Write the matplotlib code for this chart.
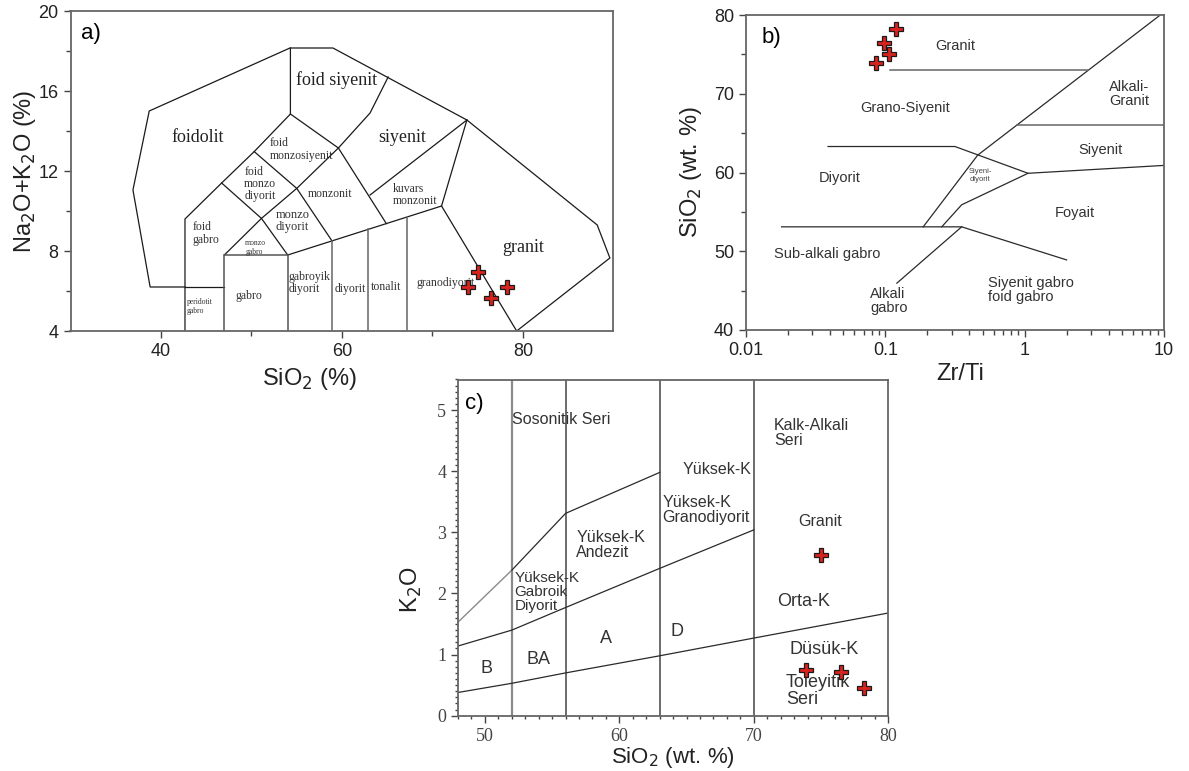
import numpy as np
import matplotlib
matplotlib.use('Agg')
import matplotlib.pyplot as plt
from matplotlib.ticker import FixedLocator, MultipleLocator, LogLocator, NullFormatter

plt.rcParams['font.family'] = ['Liberation Sans', 'DejaVu Sans']
SERIF = ['Liberation Serif', 'DejaVu Serif']

### sample data (same four samples in every panel)
sio2 = [75.0, 73.9, 76.5, 78.2]
na2o_k2o = [6.97, 6.18, 5.63, 6.18]
k2o = [2.63, 0.74, 0.72, 0.45]
zr_ti = [0.107, 0.086, 0.098, 0.119]

### a) TAS field boundaries (SiO2, Na2O+K2O)
tas_outer = [(42.65, 6.2), (38.8, 6.2), (36.9, 11.05), (38.7, 15.0), (54.25, 18.15),
             (59.0, 18.15), (73.8, 14.55), (88.2, 9.3), (89.6, 7.65), (79.3, 4.0)]
tas_foidolit_edge = [(42.65, 4.0), (42.65, 9.6), (46.7, 11.4), (50.3, 12.97), (54.3, 14.85), (54.3, 18.15)]
tas_foid_syenite_edge = [(65.1, 16.7), (63.1, 14.9), (59.6, 13.15)]
tas_syenite_monzonite = [(54.3, 14.85), (59.6, 13.15), (64.9, 9.37)]
tas_syenite_qmonz = [(63.1, 10.8), (73.8, 14.55)]
tas_qmonz_granite = [(73.8, 14.55), (71.0, 10.25), (79.3, 4.0)]
tas_foid_monzo = [(47.0, 7.8), (51.1, 9.63), (55.0, 11.13), (59.6, 13.15)]
tas_monzodiorite = [(50.3, 12.97), (55.0, 11.13), (58.9, 8.5)]
tas_monzogabbro = [(46.7, 11.4), (51.1, 9.63), (54.0, 7.8)]
tas_lower = [(54.0, 7.8), (71.0, 10.25)]
tas_peridot_top = [(42.65, 6.2), (47.0, 6.2)]
tas_gabbro_box = [(47.0, 4.0), (47.0, 7.8), (54.0, 7.8), (54.0, 4.0)]
tas_verticals = [58.9, 62.9, 67.15]

tas_big_labels = [('foidolit', 44.0, 13.7), ('foid siyenit', 59.4, 16.55),
                  ('siyenit', 66.6, 13.7), ('granit', 80.0, 8.2)]
tas_left_labels = [('foid\nmonzosiyenit', 52.0, 13.07, 8.5), ('foid\nmonzo\ndiyorit', 49.2, 11.35, 8.5),
                   ('monzo\ndiyorit', 52.7, 9.5, 9), ('kuvars\nmonzonit', 65.6, 10.8, 8.5),
                   ('foid\ngabro', 43.5, 8.88, 8.5), ('monzo\ngabro', 49.3, 8.18, 5.5),
                   ('peridotit\ngabro', 42.8, 5.23, 5.5), ('gabroyik\ndiyorit', 54.05, 6.4, 8.5)]
tas_center_labels = [('monzonit', 58.7, 10.85), ('gabro', 49.7, 5.75), ('diyorit', 60.9, 6.1),
                     ('tonalit', 64.9, 6.18), ('granodiyorit', 71.4, 6.38)]

### b) Zr/Ti - SiO2 boundaries
b_granite = [(0.108, 73.0), (2.85, 73.0)]
b_diagonal = [(9.4, 80.0), (0.46, 62.2), (0.187, 53.1)]
b_alkali_granite = [(0.88, 66.0), (10.0, 66.0)]
b_diorite_top = [(0.0388, 63.3), (0.316, 63.3), (1.057, 59.9), (10.0, 60.9)]
b_syenodiorite = [(1.057, 59.9), (0.353, 55.9), (0.254, 53.1)]
b_gabbro_top = [(0.018, 53.1), (0.353, 53.1), (2.0, 48.9)]
b_alkali_gabbro = [(0.353, 53.1), (0.121, 45.95)]

b_labels = [('Granit', 0.316, 76.1, 'center'), ('Grano-Siyenit', 0.138, 68.2, 'center'),
            ('Alkali-\nGranit', 5.6, 70.0, 'center'), ('Siyenit', 3.48, 62.9, 'center'),
            ('Diyorit', 0.0473, 59.3, 'center'), ('Foyait', 2.3, 54.9, 'center'),
            ('Sub-alkali gabro', 0.038, 49.7, 'center'), ('Alkali\ngabro', 0.0777, 43.7, 'left'),
            ('Siyenit gabro\nfoid gabro', 0.546, 45.1, 'left')]

### c) SiO2 - K2O series boundaries
c_verticals = [52, 56, 63, 70]
c_sho_x = [48, 52, 56, 63]
c_sho_y = [1.53, 2.38, 3.31, 3.98]
c_hk_x = [48, 52, 56, 63, 70]
c_hk_y = [1.14, 1.40, 1.77, 2.41, 3.04]
c_mk_x = [48, 52, 56, 63, 70, 80]
c_mk_y = [0.38, 0.53, 0.70, 0.98, 1.27, 1.68]

c_labels = [('Sosonitik Seri', 52.0, 4.84, 'left', 11.5), ('Kalk-Alkali\nSeri', 71.5, 4.63, 'left', 11.5),
            ('Yüksek-K', 67.3, 4.03, 'center', 11.5), ('Yüksek-K\nGranodiyorit', 63.2, 3.36, 'left', 11.5),
            ('Granit', 74.9, 3.18, 'center', 11.5), ('Yüksek-K\nAndezit', 56.8, 2.79, 'left', 11.5),
            ('Yüksek-K\nGabroik\nDiyorit', 52.2, 2.02, 'left', 11),
            ('Orta-K', 73.7, 1.87, 'center', 13), ('Düsük-K', 75.2, 1.09, 'center', 13),
            ('Toleyitik\nSeri', 72.4, 0.41, 'left', 13), ('B', 50.1, 0.78, 'center', 13),
            ('BA', 53.95, 0.92, 'center', 13), ('A', 59.0, 1.27, 'center', 13),
            ('D', 64.25, 1.37, 'center', 13)]

W, H = 1189, 771


def px_axes(fig, x0, y0, x1, y1):
    return fig.add_axes([x0 / W, 1 - y1 / H, (x1 - x0) / W, (y1 - y0) / H])


def draw_line(ax, pts, color='#1a1a1a', lw=0.9):
    xs, ys = zip(*pts)
    ax.plot(xs, ys, color=color, lw=lw, solid_joinstyle='miter')


def style_axes(ax, labelsize=13, labelcolor='#222222'):
    for s in ax.spines.values():
        s.set_color('#666666')
        s.set_linewidth(1.3)
    ax.tick_params(which='major', direction='out', length=5, width=1, colors='#444444',
                   labelsize=labelsize, labelcolor=labelcolor)
    ax.tick_params(which='minor', direction='out', length=3.5, width=1, colors='#444444')


def plot_samples(ax, x, y):
    ax.plot(x, y, 'P', ls='none', ms=10, mfc='#d8231e', mec='#1a1a1a', mew=0.9, zorder=5)


fig = plt.figure(figsize=(W / 100, H / 100), dpi=100)

############################ a) TAS
ax = px_axes(fig, 70.5, 11, 613.5, 331)
ax.set_xlim(30, 90)
ax.set_ylim(4, 20)
for pts in [tas_outer, tas_foidolit_edge, tas_foid_syenite_edge, tas_syenite_monzonite,
            tas_syenite_qmonz, tas_qmonz_granite, tas_foid_monzo, tas_monzodiorite,
            tas_monzogabbro, tas_lower, tas_peridot_top]:
    draw_line(ax, pts)
draw_line(ax, tas_gabbro_box, color='#555555', lw=1.1)
lx, ly = zip(*tas_lower)
for v in tas_verticals:
    draw_line(ax, [(v, 4.0), (v, np.interp(v, lx, ly))], color='#666666', lw=1.1)

for txt, x, y in tas_big_labels:
    ax.text(x, y, txt, family=SERIF, fontsize=13, ha='center', va='center', color='#222222')
for txt, x, y, fs in tas_left_labels:
    ax.text(x, y, txt, family=SERIF, fontsize=fs, ha='left', va='center', color='#333333',
            linespacing=1.05)
for txt, x, y in tas_center_labels:
    ax.text(x, y, txt, family=SERIF, fontsize=8.5, ha='center', va='center', color='#333333')

plot_samples(ax, sio2, na2o_k2o)
ax.xaxis.set_major_locator(FixedLocator([40, 60, 80]))
ax.xaxis.set_minor_locator(FixedLocator([50, 70]))
ax.yaxis.set_major_locator(FixedLocator([4, 8, 12, 16, 20]))
ax.yaxis.set_minor_locator(FixedLocator([6, 10, 14, 18]))
style_axes(ax)
ax.set_xlabel('SiO$_2$ (%)', fontsize=17, color='#222222')
ax.set_ylabel('Na$_2$O+K$_2$O (%)', fontsize=17, color='#222222')
ax.xaxis.set_label_coords(0.44, -0.11)
ax.yaxis.set_label_coords(-0.06, 0.5)
ax.text(0.038, 0.93, 'a)', transform=ax.transAxes, fontsize=16, ha='center', va='center')

############################ b) Zr/Ti
ax = px_axes(fig, 746, 15, 1164, 330)
ax.set_xscale('log')
ax.set_xlim(0.01, 10)
ax.set_ylim(40, 80)
for pts in [b_diagonal, b_diorite_top, b_syenodiorite, b_gabbro_top, b_alkali_gabbro]:
    draw_line(ax, pts, color='#2a2a2a', lw=0.9)
for pts in [b_granite, b_alkali_granite]:
    draw_line(ax, pts, color='#666666', lw=1.1)
for txt, x, y, ha in b_labels:
    ax.text(x, y, txt, fontsize=10.5, ha=ha, va='center', color='#333333', linespacing=1.0)
ax.text(0.479, 59.6, 'Siyeni-\ndiyorit', fontsize=5.5, ha='center', va='center', color='#444444')
plot_samples(ax, zr_ti, sio2)
ax.xaxis.set_major_locator(FixedLocator([0.01, 0.1, 1, 10]))
ax.xaxis.set_minor_locator(LogLocator(base=10, subs=np.arange(2, 10)))
ax.xaxis.set_minor_formatter(NullFormatter())
ax.set_xticklabels(['0.01', '0.1', '1', '10'])
ax.yaxis.set_major_locator(MultipleLocator(10))
ax.yaxis.set_minor_locator(MultipleLocator(5))
style_axes(ax)
ax.set_xlabel('Zr/Ti', fontsize=17, color='#222222')
ax.set_ylabel('SiO$_2$ (wt. %)', fontsize=17, color='#222222')
ax.xaxis.set_label_coords(0.512, -0.105)
ax.yaxis.set_label_coords(-0.1, 0.5)
ax.text(0.062, 0.927, 'b)', transform=ax.transAxes, fontsize=16, ha='center', va='center')

############################ c) K2O
ax = px_axes(fig, 458, 379.5, 888.3, 715.7)
ax.set_xlim(48, 80)
ax.set_ylim(0, 5.5)
for v in c_verticals:
    col = '#8a8a8a' if v == 52 else '#444444'
    ax.axvline(v, color=col, lw=1.6 if v == 52 else 1.1)
ax.plot(c_sho_x[:2], c_sho_y[:2], color='#8a8a8a', lw=1.0)
ax.plot(c_sho_x[1:], c_sho_y[1:], color='#2a2a2a', lw=0.9)
ax.plot(c_hk_x, c_hk_y, color='#2a2a2a', lw=0.9)
ax.plot(c_mk_x, c_mk_y, color='#2a2a2a', lw=0.9)
for txt, x, y, ha, fs in c_labels:
    ax.text(x, y, txt, fontsize=fs, ha=ha, va='center', color='#333333', linespacing=1.0)
plot_samples(ax, sio2, k2o)
ax.xaxis.set_major_locator(FixedLocator([50, 60, 70, 80]))
ax.xaxis.set_minor_locator(MultipleLocator(1))
ax.yaxis.set_major_locator(MultipleLocator(1))
ax.yaxis.set_minor_locator(MultipleLocator(0.1))
style_axes(ax, labelsize=13, labelcolor='#444444')
ax.tick_params(which='minor', length=2.5)
for lab in ax.get_xticklabels() + ax.get_yticklabels():
    lab.set_family(SERIF)
ax.set_xlabel('SiO$_2$ (wt. %)', fontsize=16, color='#222222')
ax.set_ylabel('K$_2$O', fontsize=17, color='#222222')
ax.xaxis.set_label_coords(0.5, -0.088)
ax.yaxis.set_label_coords(-0.08, 0.374)
ax.text(0.039, 0.93, 'c)', transform=ax.transAxes, fontsize=16, ha='center', va='center')

fig.savefig('out.png', dpi=100)
